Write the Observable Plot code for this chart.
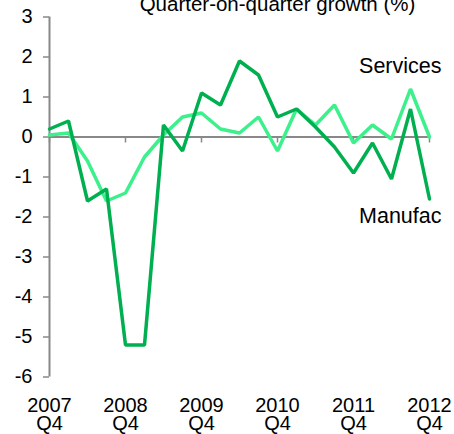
<!DOCTYPE html>
<html>
<head>
<meta charset="utf-8">
<script src="https://cdn.jsdelivr.net/npm/d3@7"></script>
<script src="https://cdn.jsdelivr.net/npm/@observablehq/plot@0.6"></script>
<style>
  html, body { margin: 0; padding: 0; background: white; }
</style>
</head>
<body>
<div id="chart"></div>
<script>
// Quarter index 0 = 2007 Q4 ... 20 = 2012 Q4
const quarters = d3.range(21);
const services = [0.05, 0.1, -0.6, -1.6, -1.4, -0.5, 0.05, 0.5, 0.6, 0.2, 0.1, 0.5, -0.35, 0.7, 0.3, 0.8, -0.15, 0.3, -0.05, 1.2, 0.0];
const manufac  = [0.2, 0.4, -1.6, -1.3, -5.2, -5.2, 0.3, -0.35, 1.1, 0.8, 1.9, 1.55, 0.5, 0.7, 0.25, -0.25, -0.9, -0.15, -1.05, 0.7, -1.55];
const xTickIdx = [0, 4, 8, 12, 16, 20];
const xTickLabels = ["2007\nQ4", "2008\nQ4", "2009\nQ4", "2010\nQ4", "2011\nQ4", "2012\nQ4"];
const yTicks = [3, 2, 1, 0, -1, -2, -3, -4, -5, -6];
const seriesNames = ["Services", "Manufac"];
const seriesLabelY = [1.78, -1.97];
const title = "Quarter-on-quarter growth (%)";

const servData = quarters.map((q, i) => ({q, v: services[i]}));
const manuData = quarters.map((q, i) => ({q, v: manufac[i]}));
const labelData = seriesNames.map((name, i) => ({name, q: quarters[quarters.length - 1], v: seriesLabelY[i]}));
const xTickData = xTickIdx.map((q, i) => ({q, label: xTickLabels[i]}));

const font = "'Liberation Sans', Arial, sans-serif";
const gray = "#888888";

const chart = Plot.plot({
  width: 454,
  height: 434,
  marginLeft: 49,
  marginRight: 25,
  marginTop: 16.5,
  marginBottom: 57.5,
  style: {fontFamily: font, fontSize: "20px", color: "#000", background: "white", overflow: "visible"},
  x: {domain: [0, 20], axis: null},
  y: {domain: [-6, 3], axis: null},
  marks: [
    // y axis line
    Plot.ruleX([0], {stroke: gray, strokeWidth: 2}),
    // zero line
    Plot.ruleY([0], {stroke: gray, strokeWidth: 2}),
    // x ticks hanging from zero line
    Plot.ruleX(xTickIdx, {x: d => d, y1: 0, y2: 0, insetBottom: -6, stroke: gray, strokeWidth: 1.5}),
    // y axis ticks and labels
    Plot.axisY(yTicks, {
      anchor: "left",
      label: null,
      tickSize: 6,
      tickPadding: 11,
      stroke: gray,
      strokeWidth: 1.5,
      fill: "#000",
      fontSize: 20,
      fontFamily: font,
      tickFormat: d => String(d)
    }),
    // x labels
    Plot.text(xTickData, {
      x: "q",
      text: "label",
      frameAnchor: "bottom",
      lineAnchor: "top",
      lineHeight: 0.95,
      dy: 21,
      fontSize: 20,
      fontFamily: font,
      fill: "#000"
    }),
    // series lines
    Plot.line(servData, {x: "q", y: "v", stroke: "#3cf08c", strokeWidth: 3.5, strokeLinejoin: "miter"}),
    Plot.line(manuData, {x: "q", y: "v", stroke: "#00b050", strokeWidth: 3.5, strokeLinejoin: "miter"}),
    // series labels
    Plot.text(labelData, {
      x: "q", y: "v", text: "name",
      textAnchor: "end", dx: 12,
      fontSize: 21.5, fontFamily: font, fill: "#000"
    }),
    // title
    Plot.text([title], {
      frameAnchor: "top",
      lineAnchor: "bottom",
      dx: 38,
      dy: -6.5,
      fontSize: 20.5,
      fontFamily: font,
      fill: "#000"
    })
  ]
});
document.getElementById("chart").appendChild(chart);
</script>
</body>
</html>
